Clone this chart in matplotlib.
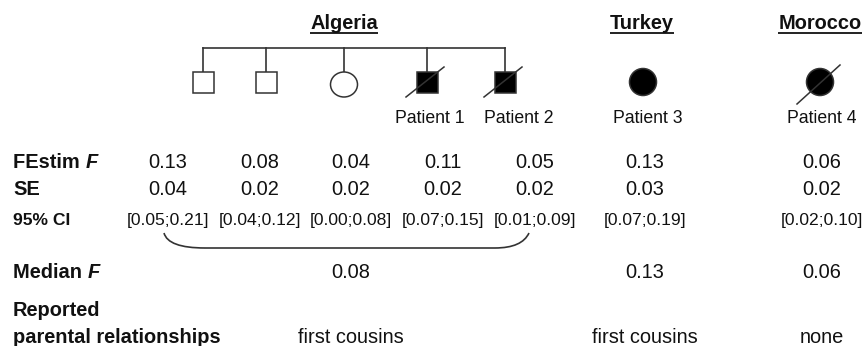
import matplotlib
matplotlib.use("Agg")
import matplotlib.pyplot as plt
from matplotlib.patches import Rectangle, Ellipse, PathPatch
from matplotlib.path import Path

# ---------------- data ----------------
groups = ["Algeria", "Turkey", "Morocco"]
patient_labels = ["", "", "", "Patient 1", "Patient 2", "Patient 3", "Patient 4"]
sex = ["M", "M", "F", "M", "M", "F", "F"]
affected = [0, 0, 0, 1, 1, 1, 1]
deceased = [0, 0, 0, 1, 1, 0, 1]
festim_f = [0.13, 0.08, 0.04, 0.11, 0.05, 0.13, 0.06]
se = [0.04, 0.02, 0.02, 0.02, 0.02, 0.03, 0.02]
ci_low = [0.05, 0.04, 0.00, 0.07, 0.01, 0.07, 0.02]
ci_high = [0.21, 0.12, 0.08, 0.15, 0.09, 0.19, 0.10]
median_f = [0.08, 0.13, 0.06]
relationships = ["first cousins", "first cousins", "none"]
row_labels = ["FEstim ", "SE", "95% CI", "Median ", "Reported", "parental relationships"]

# ---------------- layout (pixels) ----------------
W, H = 866, 346
sym_x = [203, 266, 344, 427, 505, 643, 820]
lab_x = [203, 266, 344, 430, 519, 648, 822]
col_x = [168, 260, 351, 443, 535, 645, 822]
group_x = [344, 642, 820]
group_col = [351, 645, 822]
FS = 14.4
TXT = "#111111"
LC = "#333333"

plt.rcParams["font.family"] = ["Liberation Sans", "DejaVu Sans"]
fig = plt.figure(figsize=(W / 100, H / 100), dpi=100)
ax = fig.add_axes([0, 0, 1, 1])
ax.set_xlim(0, W)
ax.set_ylim(H, 0)
ax.axis("off")
renderer = fig.canvas.get_renderer()

def text_width_px(t):
    return t.get_window_extent(renderer=renderer).width

# titles with underline
for g, gx in zip(groups, group_x):
    t = ax.text(gx, 29, g, ha="center", va="baseline", fontsize=FS, fontweight="bold", color=TXT)
    w = text_width_px(t)
    ax.plot([gx - w / 2, gx + w / 2], [32.5, 32.5], color=TXT, lw=1.3, solid_capstyle="butt")

# pedigree (Algeria sibship)
ax.plot([sym_x[0], sym_x[4]], [48, 48], color=LC, lw=1.2)
half = 10.5
for i in range(7):
    x = sym_x[i]
    fc = "black" if affected[i] else "white"
    if i < 5:
        top = 72 if sex[i] == "M" else 72
        ax.plot([x, x], [48, top], color=LC, lw=1.2)
    if sex[i] == "M":
        ax.add_patch(Rectangle((x - half, 82 - half), 2 * half, 2 * half, fc=fc, ec="#333333", lw=1.1, zorder=3))
        if deceased[i]:
            ax.plot([x - 21, x + 17], [97, 67], color="#333333", lw=1.1, zorder=4)
    else:
        if affected[i]:
            ax.add_patch(Ellipse((x, 82), 27, 27, fc=fc, ec="#333333", lw=1.1, zorder=3))
        else:
            ax.add_patch(Ellipse((x, 84.5), 27, 25, fc=fc, ec="#333333", lw=1.1, zorder=3))
        if deceased[i]:
            ax.plot([x - 23, x + 20], [104, 65], color="#333333", lw=1.1, zorder=4)
    if patient_labels[i]:
        ax.text(lab_x[i], 123, patient_labels[i], ha="center", va="baseline", fontsize=12.7, color=TXT)

# row labels
t = ax.text(13, 168, row_labels[0], ha="left", va="baseline", fontsize=FS, fontweight="bold", color=TXT)
ax.text(13 + text_width_px(t), 168, "F", ha="left", va="baseline", fontsize=FS, fontweight="bold", fontstyle="italic", color=TXT)
ax.text(13, 195, row_labels[1], ha="left", va="baseline", fontsize=FS, fontweight="bold", color=TXT)
ax.text(13, 225, row_labels[2], ha="left", va="baseline", fontsize=12.6, fontweight="bold", color=TXT)
t = ax.text(13, 278, row_labels[3], ha="left", va="baseline", fontsize=FS, fontweight="bold", color=TXT)
ax.text(13 + text_width_px(t), 278, "F", ha="left", va="baseline", fontsize=FS, fontweight="bold", fontstyle="italic", color=TXT)
ax.text(13, 316, row_labels[4], ha="left", va="baseline", fontsize=FS, fontweight="bold", color=TXT)
ax.text(13, 343, row_labels[5], ha="left", va="baseline", fontsize=FS, fontweight="bold", color=TXT)

# values
for i in range(7):
    x = col_x[i]
    ax.text(x, 168, f"{festim_f[i]:.2f}", ha="center", va="baseline", fontsize=FS, color=TXT)
    ax.text(x, 195, f"{se[i]:.2f}", ha="center", va="baseline", fontsize=FS, color=TXT)
    ax.text(x, 225, f"[{ci_low[i]:.2f};{ci_high[i]:.2f}]", ha="center", va="baseline", fontsize=12.6, color=TXT)

# brace grouping Algeria
verts = [(164, 233), (168, 248), (205, 248), (495, 248), (522, 248), (529, 233)]
codes = [Path.MOVETO, Path.CURVE3, Path.CURVE3, Path.LINETO, Path.CURVE3, Path.CURVE3]
ax.add_patch(PathPatch(Path(verts, codes), fc="none", ec="#333333", lw=1.2))

for j in range(3):
    ax.text(group_col[j], 278, f"{median_f[j]:.2f}", ha="center", va="baseline", fontsize=FS, color=TXT)
    ax.text(group_col[j], 343, relationships[j], ha="center", va="baseline", fontsize=FS, color=TXT)

fig.savefig("out.png", dpi=100, facecolor="white")
